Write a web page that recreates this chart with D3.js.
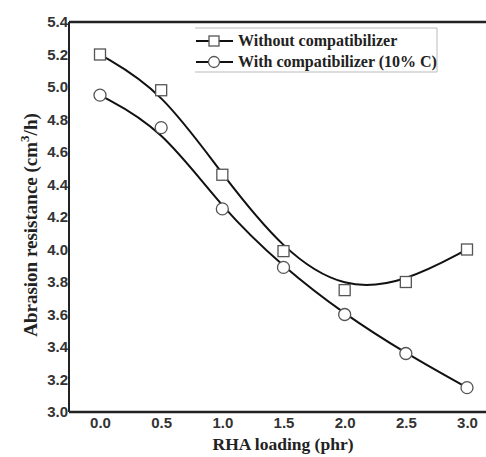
<!DOCTYPE html>
<html>
  <head>
    <script src="https://d3js.org/d3.v7.min.js"></script>
    <style>
      body { margin: 0; background: #fff; }
      .tick text { font-family: "Liberation Sans", Arial, sans-serif; font-weight: bold; font-size: 15px; fill: #333; }
      .lbl { font-family: "Liberation Serif", "Times New Roman", serif; font-weight: bold; fill: #222; }
      .leg { font-family: "Liberation Serif", "Times New Roman", serif; font-weight: bold; font-size: 16px; fill: #222; }
    </style>
  </head>
  <body>
    <svg id="chart" width="486" height="457"></svg>
    <script>
      // data
      const loading = [0.0, 0.5, 1.0, 1.5, 2.0, 2.5, 3.0];
      const without = [5.20, 4.98, 4.46, 3.99, 3.75, 3.80, 4.00];
      const withC = [4.95, 4.75, 4.25, 3.89, 3.60, 3.36, 3.15];
      const xTicks = [0.0, 0.5, 1.0, 1.5, 2.0, 2.5, 3.0];
      const yTicks = [3.0, 3.2, 3.4, 3.6, 3.8, 4.0, 4.2, 4.4, 4.6, 4.8, 5.0, 5.2, 5.4];
      const seriesNames = ["Without compatibilizer", "With compatibilizer (10% C)"];

      const svg = d3.select("#chart");
      const mLeft = 69, mTop = 22, mBottom = 412, mRight = 486;

      const x = d3.scaleLinear().domain([0, 3]).range([100, 467]);
      const y = d3.scaleLinear().domain([3.0, 5.4]).range([mBottom, mTop]);

      // axes
      svg.append("g")
        .attr("transform", `translate(0,${mBottom})`)
        .call(d3.axisBottom(x).tickValues(xTicks).tickFormat(d3.format(".1f")).tickSize(0).tickPadding(5))
        .call(g => g.select(".domain").remove());
      svg.append("g")
        .attr("transform", `translate(${mLeft},0)`)
        .call(d3.axisLeft(y).tickValues(yTicks).tickFormat(d3.format(".1f")).tickSize(0).tickPadding(1))
        .call(g => g.select(".domain").remove());

      // frame lines: left, bottom, top
      svg.append("line").attr("x1", mLeft).attr("x2", mLeft).attr("y1", mTop).attr("y2", mBottom)
        .attr("stroke", "#222").attr("stroke-width", 2);
      svg.append("line").attr("x1", mLeft).attr("x2", mRight).attr("y1", mBottom).attr("y2", mBottom)
        .attr("stroke", "#222").attr("stroke-width", 2.5);
      svg.append("line").attr("x1", mLeft).attr("x2", mRight).attr("y1", mTop).attr("y2", mTop)
        .attr("stroke", "#222").attr("stroke-width", 2.5);

      const line = d3.line().x(d => x(d[0])).y(d => y(d[1])).curve(d3.curveBasis);
      const series = [without, withC].map(v => loading.map((l, i) => [l, v[i]]));

      series.forEach(s => {
        svg.append("path").datum(s).attr("d", line)
          .attr("fill", "none").attr("stroke", "#111").attr("stroke-width", 2);
      });

      // markers
      svg.selectAll(".sq").data(series[0]).join("rect")
        .attr("x", d => x(d[0]) - 5.5).attr("y", d => y(d[1]) - 5.5)
        .attr("width", 11).attr("height", 11)
        .attr("fill", "#fff").attr("stroke", "#555").attr("stroke-width", 1.3);
      svg.selectAll(".ci").data(series[1]).join("circle")
        .attr("cx", d => x(d[0])).attr("cy", d => y(d[1])).attr("r", 6)
        .attr("fill", "#fff").attr("stroke", "#555").attr("stroke-width", 1.3);

      // legend
      const lg = svg.append("g");
      lg.append("path").attr("d", "M195,28 H437 V72 H195")
        .attr("fill", "none").attr("stroke", "#bbb").attr("stroke-width", 1);
      [41, 62].forEach((ly, i) => {
        lg.append("line").attr("x1", 196).attr("x2", 233).attr("y1", ly).attr("y2", ly)
          .attr("stroke", "#111").attr("stroke-width", 2);
        if (i === 0) {
          lg.append("rect").attr("x", 209).attr("y", ly - 5).attr("width", 10).attr("height", 10)
            .attr("fill", "#fff").attr("stroke", "#555").attr("stroke-width", 1.3);
        } else {
          lg.append("circle").attr("cx", 214).attr("cy", ly).attr("r", 5.5)
            .attr("fill", "#fff").attr("stroke", "#555").attr("stroke-width", 1.3);
        }
        lg.append("text").attr("class", "leg").attr("x", 238).attr("y", ly + 5).text(seriesNames[i]);
      });

      // axis titles
      svg.append("text").attr("class", "lbl").attr("font-size", 17.5)
        .attr("x", 283).attr("y", 450).attr("text-anchor", "middle")
        .text("RHA loading (phr)");
      const yl = svg.append("text").attr("class", "lbl").attr("font-size", 19)
        .attr("transform", "translate(37,225) rotate(-90)").attr("text-anchor", "middle");
      yl.append("tspan").text("Abrasion resistance (cm");
      yl.append("tspan").attr("dy", -8).attr("font-size", 13).text("3");
      yl.append("tspan").attr("dy", 8).text("/h)");
    </script>
  </body>
</html>
